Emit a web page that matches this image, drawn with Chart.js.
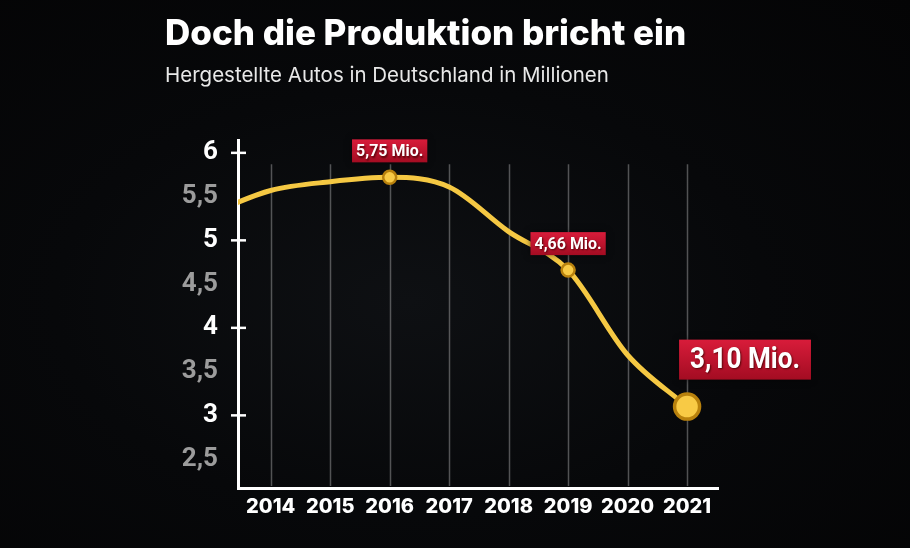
<!DOCTYPE html>
<html lang="de">
<head>
<meta charset="utf-8">
<title>Doch die Produktion bricht ein</title>
<script src="https://cdn.jsdelivr.net/npm/chart.js@4.4.1/dist/chart.umd.min.js"></script>
<style>
  html, body { margin: 0; padding: 0; }
  body {
    width: 910px;
    height: 548px;
    overflow: hidden;
    background: radial-gradient(ellipse at 45% 55%, #0e1013 0%, #07080a 50%, #040405 100%);
  }
  canvas { display: block; }
</style>
</head>
<body>
<canvas id="productionChart" width="910" height="548"></canvas>
<script>
'use strict'

// Hergestellte Autos in Deutschland, Millionen (2013 liegt links ausserhalb der Achse)
var years = [2013, 2014, 2015, 2016, 2017, 2018, 2019, 2020, 2021];
var production = [5.31, 5.57, 5.67, 5.72, 5.61, 5.10, 4.66, 3.69, 3.10];

var yearTicks = [2014, 2015, 2016, 2017, 2018, 2019, 2020, 2021];
var valueTicks = [2.5, 3, 3.5, 4, 4.5, 5, 5.5, 6];

var calloutYears = [2016, 2019, 2021];
var calloutTexts = ['5,75 Mio.', '4,66 Mio.', '3,10 Mio.'];

function calloutIndex(context) {
  return calloutYears.indexOf(years[context.dataIndex]);
}

function isLast(context) {
  return calloutIndex(context) === calloutYears.length - 1;
}

// vertical year lines + short white ticks on the y axis
var gridPlugin = {
  id: 'gridLines',
  beforeDatasetsDraw: function (chart) {
    var c = chart.ctx;
    var x = chart.scales.x;
    var y = chart.scales.y;
    var area = chart.chartArea;
    var top = y.getPixelForValue(5.87);

    c.save();
    c.strokeStyle = 'rgba(255, 255, 255, 0.3)';
    c.lineWidth = 1.5;
    yearTicks.forEach(function (year) {
      var px = Math.round(x.getPixelForValue(year)) + 0.5;
      c.beginPath();
      c.moveTo(px, top);
      c.lineTo(px, area.bottom - 2);
      c.stroke();
    });

    c.strokeStyle = '#ffffff';
    c.lineWidth = 2.5;
    valueTicks.forEach(function (v) {
      if (!Number.isInteger(v)) return;
      var py = y.getPixelForValue(v);
      c.beginPath();
      c.moveTo(area.left - 7, py);
      c.lineTo(area.left + 8, py);
      c.stroke();
    });
    c.restore();
  }
};

function drawCallout(c, text, px, py, big) {
  var fontSize = big ? 29 : 17;
  var h = big ? 40 : 23;
  var padX = big ? 11 : 4;
  var squeeze = big ? 0.9 : 0.94;

  c.font = '700 ' + fontSize + 'px Roboto';
  var w = c.measureText(text).width * squeeze + padX * 2;
  var left = big ? px - 8 : px - w / 2;
  var top = big ? py - 27 - h : py - 15 - h;

  var fill = c.createLinearGradient(0, top, 0, top + h);
  fill.addColorStop(0, '#d81c3a');
  fill.addColorStop(1, '#a30c22');

  c.save();
  c.shadowColor = 'rgba(0, 0, 0, 0.5)';
  c.shadowBlur = 6;
  c.fillStyle = fill;
  c.fillRect(left, top, w, h);

  c.shadowColor = 'rgba(60, 0, 0, 0.8)';
  c.shadowBlur = 2;
  c.shadowOffsetX = 1;
  c.shadowOffsetY = 1.5;
  c.fillStyle = '#ffffff';
  c.textAlign = 'center';
  c.textBaseline = 'middle';
  c.translate(left + w / 2, top + h / 2 + 1);
  c.scale(squeeze, 1);
  c.fillText(text, 0, 0);
  c.restore();
}

var calloutPlugin = {
  id: 'callouts',
  afterDatasetsDraw: function (chart) {
    var meta = chart.getDatasetMeta(0);
    calloutYears.forEach(function (year, i) {
      var point = meta.data[years.indexOf(year)];
      drawCallout(chart.ctx, calloutTexts[i], point.x, point.y, i === calloutYears.length - 1);
    });
  }
};

var ctx = document.getElementById('productionChart').getContext('2d');

var productionChart = new Chart(ctx, {
  type: 'line',
  data: {
    datasets: [
      {
        label: 'Hergestellte Autos in Millionen',
        data: years.map(function (year, i) { return { x: year, y: production[i] }; }),
        borderColor: '#f5c843',
        borderWidth: 5,
        cubicInterpolationMode: 'monotone',
        pointRadius: function (context) {
          if (calloutIndex(context) < 0) return 0;
          return isLast(context) ? 12.5 : 6.5;
        },
        pointBorderWidth: function (context) {
          return isLast(context) ? 3.5 : 2.5;
        },
        pointBackgroundColor: '#f8ca45',
        pointBorderColor: '#b8810d'
      }]
  },
  options: {
    responsive: false,
    animation: false,
    events: [],
    layout: {
      padding: { left: 165, right: 192, top: 0, bottom: 20 }
    },
    plugins: {
      legend: { display: false },
      tooltip: { enabled: false },
      title: {
        display: true,
        text: 'Doch die Produktion bricht ein',
        align: 'start',
        color: '#ffffff',
        font: { family: 'Inter', size: 35, weight: '800' },
        padding: { top: 13, bottom: 9 }
      },
      subtitle: {
        display: true,
        text: 'Hergestellte Autos in Deutschland in Millionen',
        align: 'start',
        color: '#e8e8e8',
        font: { family: 'Inter', size: 20.5, weight: '400' },
        padding: { top: 0, bottom: 52 }
      }
    },
    scales: {
      x: {
        type: 'linear',
        min: 2013.45,
        max: 2021.52,
        afterBuildTicks: function (scale) {
          scale.ticks = yearTicks.map(function (v) { return { value: v }; });
        },
        afterFit: function (scale) { scale.height = 40; },
        grid: { drawOnChartArea: false, drawTicks: false },
        border: { color: '#ffffff', width: 3 },
        ticks: {
          color: '#ffffff',
          font: { family: 'Inter', size: 20, weight: '800' },
          padding: 7,
          maxRotation: 0,
          autoSkip: false,
          callback: function (value) { return String(value); }
        }
      },
      y: {
        min: 2.17,
        max: 6.14,
        afterBuildTicks: function (scale) {
          scale.ticks = valueTicks.map(function (v) { return { value: v }; });
        },
        afterFit: function (scale) { scale.width = 73; },
        grid: { drawOnChartArea: false, drawTicks: false },
        border: { color: '#ffffff', width: 3 },
        ticks: {
          color: function (context) {
            return Number.isInteger(context.tick.value) ? '#ffffff' : '#9c9c9c';
          },
          font: { family: 'Roboto', size: 26, weight: '700' },
          padding: 20,
          callback: function (value) { return String(value).replace('.', ','); }
        }
      }
    }
  },
  plugins: [gridPlugin, calloutPlugin]
});
</script>
</body>
</html>
